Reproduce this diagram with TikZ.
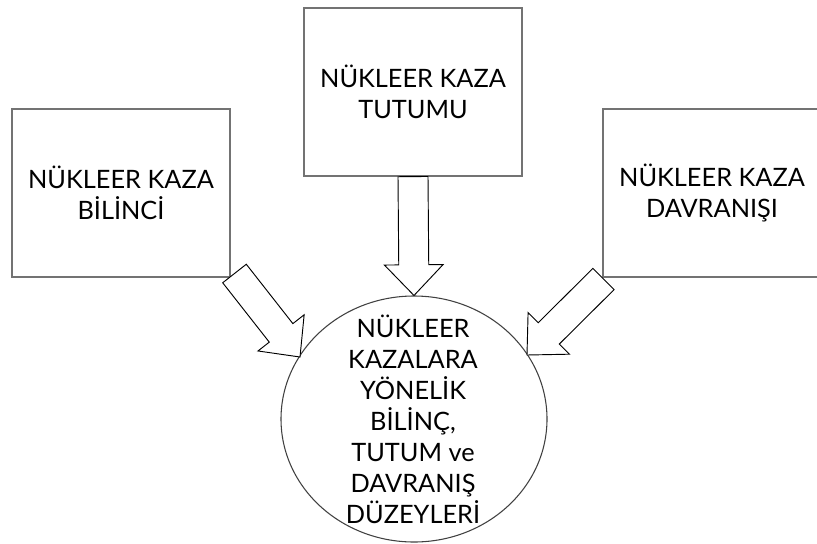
\documentclass[tikz,border=0pt]{standalone}
\usepackage{fontspec}
\setmainfont{Lato}
\usetikzlibrary{calc,shapes.geometric}
\newcommand{\blockarrow}[2]{%
  \coordinate (H#1#2) at ($(#2)!23pt!(#1)$);
  \draw[blkarrow] ($(#1)!11.25pt!90:(#2)$) -- ($(H#1#2)!11.25pt!90:(#2)$)
    -- ($(H#1#2)!22pt!90:(#2)$) -- (#2) -- ($(H#1#2)!22pt!-90:(#2)$)
    -- ($(H#1#2)!11.25pt!-90:(#2)$) -- ($(#1)!11.25pt!-90:(#2)$) -- cycle;}
\begin{document}
\begin{tikzpicture}[x=0.75pt,y=-0.75pt,
  box/.style={draw=black!55, line width=0.9pt, minimum width=163.5pt,
    minimum height=126pt, align=center, inner sep=0pt,
    font=\fontsize{19}{23.25}\selectfont},
  circ/.style={ellipse, draw=black!75, line width=0.8pt, minimum width=199.5pt,
    minimum height=184.5pt, inner sep=0pt},
  txt/.style={align=center, inner sep=0pt, font=\fontsize{19}{23.25}\selectfont},
  blkarrow/.style={draw=black, line width=0.7pt, fill=white, line join=miter}]
\useasboundingbox (0,0) rectangle (817,543);
\clip (0,0) rectangle (817,543);
\node[box] (bil) at (121,193) {NÜKLEER KAZA\\BİLİNCİ};
\node[box] (tut) at (413,92) {NÜKLEER KAZA\\TUTUMU};
\node[box] (dav) at (712,193) {NÜKLEER KAZA\\DAVRANIŞI};
\node[circ] (main) at (414,419) {};
\node[txt] (maintext) at (413,419) {NÜKLEER\\KAZALARA\\YÖNELİK\\BİLİNÇ,\\TUTUM ve\\DAVRANIŞ\\DÜZEYLERİ};
\coordinate (t1) at (234.5,273.5);
\coordinate (h1) at (300,357);
\coordinate (t2) at (tut.south);
\coordinate (h2) at (main.north);
\coordinate (t3) at (603.5,279);
\coordinate (h3) at (527,355);
\blockarrow{t1}{h1}
\blockarrow{t2}{h2}
\blockarrow{t3}{h3}
\end{tikzpicture}
\end{document}
